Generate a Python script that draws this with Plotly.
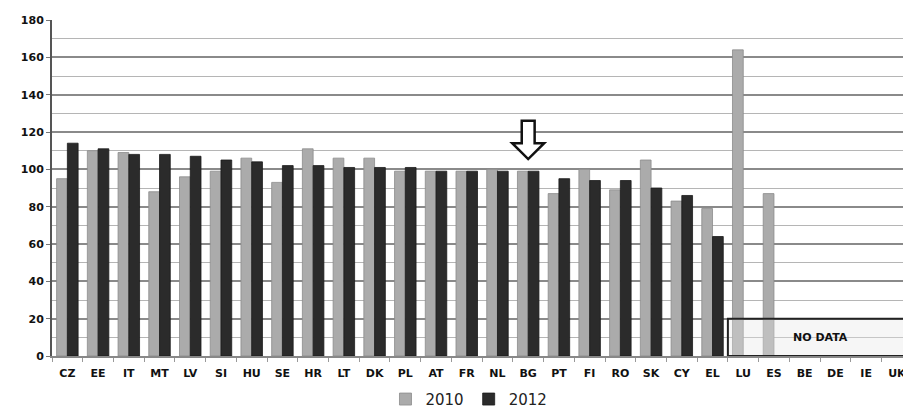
import plotly.graph_objects as go

# Country codes in display order
countries = ["CZ", "EE", "IT", "MT", "LV", "SI", "HU", "SE", "HR", "LT", "DK", "PL", "AT", "FR",
             "NL", "BG", "PT", "FI", "RO", "SK", "CY", "EL", "LU", "ES", "BE", "DE", "IE", "UK"]

# Index values per year (None = no data)
values_2010 = [95, 110, 109, 88, 96, 99, 106, 93, 111, 106, 106, 99, 99, 99,
               100, 99, 87, 100, 89, 105, 83, 79, 164, 87, None, None, None, None]
values_2012 = [114, 111, 108, 108, 107, 105, 104, 102, 102, 101, 101, 101, 99, 99,
               99, 99, 95, 94, 94, 90, 86, 64, None, None, None, None, None, None]

y_ticks = [0, 20, 40, 60, 80, 100, 120, 140, 160, 180]

FONT = "DejaVu Sans"

fig = go.Figure()
fig.add_trace(go.Bar(
    x=countries, y=values_2010, name="2010",
    marker=dict(color="#ababab", line=dict(color="#8c8c8c", width=0.8)),
))
fig.add_trace(go.Bar(
    x=countries, y=values_2012, name="2012",
    marker=dict(color="#2b2b2b", line=dict(color="#1a1a1a", width=0.8)),
))

# Hollow arrow pointing at BG
bg = countries.index("BG")
arrow_path = (f"M {bg-0.21},126 L {bg+0.21},126 L {bg+0.21},114 L {bg+0.52},114 "
              f"L {bg},105.5 L {bg-0.52},114 L {bg-0.21},114 Z")
fig.add_shape(type="path", xref="x", yref="y", path=arrow_path,
              fillcolor="white", line=dict(color="#111111", width=2.5), layer="above")

# "NO DATA" box over the countries without values
lu = countries.index("LU")
fig.add_shape(type="rect", xref="x", yref="y", x0=lu - 0.5, x1=len(countries) + 1, y0=0, y1=20,
              fillcolor="rgba(230,230,230,0.35)", line=dict(color="#222222", width=2),
              layer="above")
fig.add_annotation(x=lu + 2.5, y=10, xref="x", yref="y", text="<b>NO DATA</b>",
                   showarrow=False, font=dict(family=FONT, size=11, color="#111111"))

fig.update_layout(
    width=903, height=416,
    margin=dict(l=52, r=0, t=20, b=60, autoexpand=False),
    paper_bgcolor="white", plot_bgcolor="white",
    barmode="group", bargap=0.3, bargroupgap=0.0,
    font=dict(family=FONT, color="#111111"),
    legend=dict(orientation="h", x=0.49, xanchor="center", y=-0.178, yanchor="bottom",
                font=dict(family=FONT, size=15, color="#222222"),
                itemwidth=30, tracegroupgap=0),
    showlegend=True,
)

fig.update_xaxes(
    type="category", range=[-0.5, 27.2], automargin=False,
    tickvals=countries, ticktext=[f"<b>{c}</b>" for c in countries],
    tickfont=dict(family=FONT, size=11, color="#111111"),
    ticks="outside", tickson="boundaries", ticklen=4, tickcolor="#999999",
    ticklabelstandoff=6,
    showline=True, linecolor="#888888", linewidth=1.5,
    showgrid=False,
)
fig.update_yaxes(
    range=[0, 180], tickvals=y_ticks, automargin=False,
    ticktext=[f"<b>{v}</b>" for v in y_ticks],
    tickfont=dict(family=FONT, size=11, color="#111111"),
    ticks="outside", ticklen=4, tickcolor="#777777",
    showline=True, linecolor="#555555", linewidth=2,
    showgrid=True, gridcolor="#8a8a8a", gridwidth=1.5,
    minor=dict(dtick=10, showgrid=True, gridcolor="#b5b5b5", gridwidth=1),
    zeroline=False,
)

fig.write_html("out.html")
